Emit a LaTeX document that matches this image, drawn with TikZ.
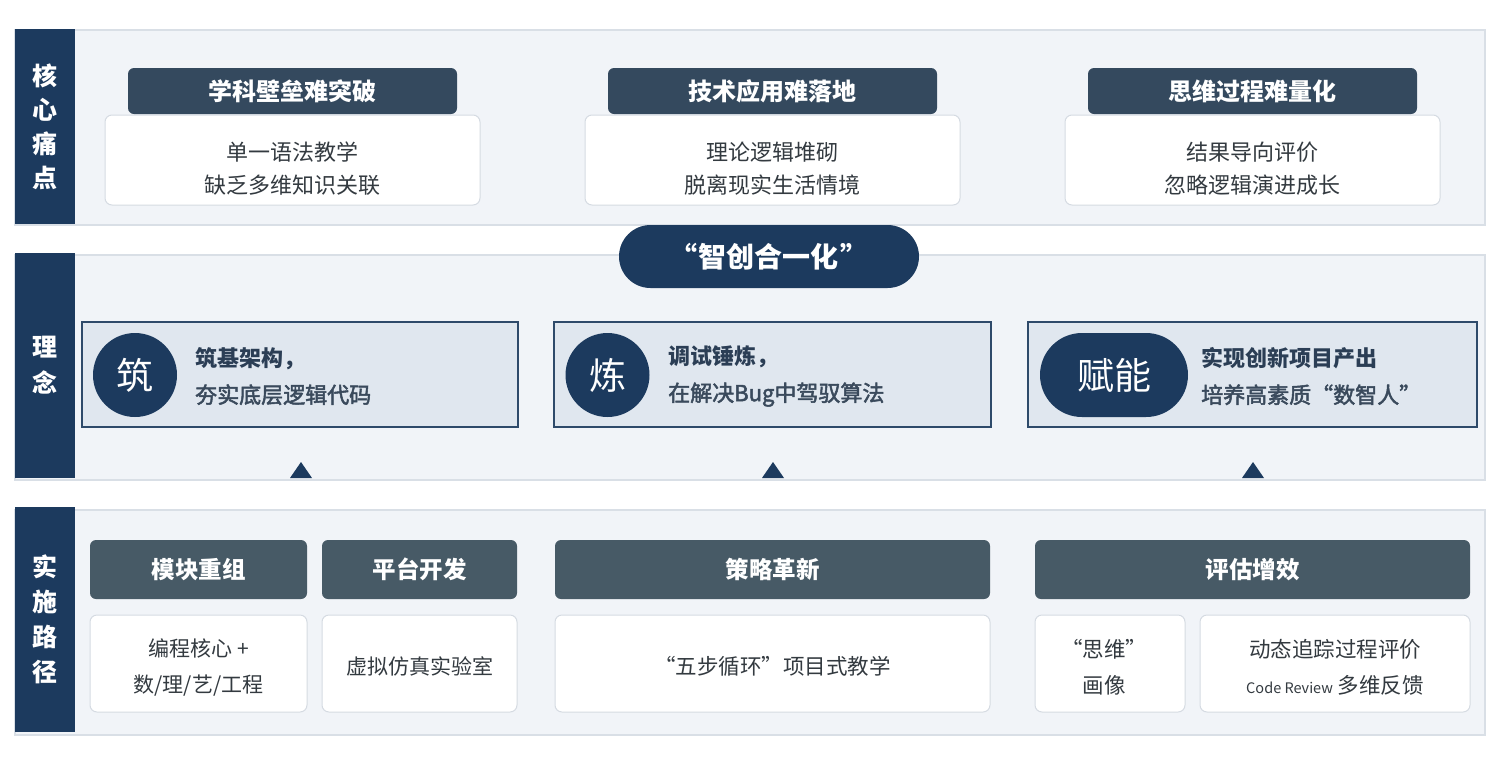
\documentclass[tikz,border=0pt]{standalone}
\usepackage{fontspec}
\setmainfont{Noto Sans CJK SC}
\usetikzlibrary{shapes.misc}
\definecolor{navy}{HTML}{1C3A5E}
\definecolor{slateA}{HTML}{34495E}
\definecolor{slateB}{HTML}{475A66}
\definecolor{panelfill}{HTML}{F1F4F8}
\definecolor{panelline}{HTML}{D9DFE6}
\definecolor{conceptfill}{HTML}{E0E7EF}
\definecolor{conceptline}{HTML}{2E4A6A}
\definecolor{boxline}{HTML}{D5DBE2}
\definecolor{bodytext}{HTML}{333A40}
\definecolor{concepttext}{HTML}{2B3E55}
\definecolor{concepttextB}{HTML}{3A4A5C}
\tikzset{
  panel/.style={draw=panelline, line width=1.2pt, fill=panelfill, rectangle, inner sep=0pt},
  sidebar/.style={fill=navy, rectangle, inner sep=0pt, minimum width=60pt, text=white,
     font=\fontsize{25}{34}\selectfont\bfseries, align=center},
  headA/.style={fill=slateA, rounded corners=6pt, inner sep=0pt, minimum height=46pt, text=white,
     font=\fontsize{24}{26}\selectfont\bfseries},
  headB/.style={fill=slateB, rounded corners=6pt, inner sep=0pt, minimum height=59pt, text=white,
     font=\fontsize{23.5}{26}\selectfont\bfseries},
  whitebox/.style={fill=white, draw=boxline, line width=1pt, rounded corners=7pt, inner sep=0pt},
  btext/.style={text=bodytext, align=center, inner sep=0pt, font=\fontsize{22}{33}\selectfont},
  concept/.style={fill=conceptfill, draw=conceptline, line width=1.2pt, inner sep=0pt, minimum height=105pt},
  badge/.style={fill=navy, circle, inner sep=0pt, minimum size=84pt, text=white, font=\fontsize{37}{40}\selectfont},
  ctext/.style={anchor=west, align=left, text=concepttext, inner sep=0pt, font=\fontsize{22}{37}\selectfont},
  tri/.style={fill=navy}
}
\newcommand{\lineB}[1]{{\color{concepttextB}\special{pdf:literal direct 2 Tr 0.5 w}#1\special{pdf:literal direct 0 Tr}}}
\begin{document}
\begin{tikzpicture}[x=1pt,y=-1pt]
\useasboundingbox[fill=white] (0,0) rectangle (1500,780);
% ---------- Row 1 ----------
\node[panel, minimum width=1470pt, minimum height=195pt] (p1) at (750,127.5) {};
\node[sidebar, minimum height=195pt] (b1) at (45,126.5) {核\\心\\痛\\点};
\node[whitebox, minimum width=375pt, minimum height=90pt] (w11) at (292.5,160) {};
\node[whitebox, minimum width=375pt, minimum height=90pt] (w12) at (772.5,160) {};
\node[whitebox, minimum width=375pt, minimum height=90pt] (w13) at (1252.5,160) {};
\node[btext] (x11) at (292.5,168.5) {单一语法教学\\缺乏多维知识关联};
\node[btext] (x12) at (772.5,168.5) {理论逻辑堆砌\\脱离现实生活情境};
\node[btext] (x13) at (1252.5,168.5) {结果导向评价\\忽略逻辑演进成长};
\node[headA, minimum width=329pt] (h11) at (292.5,91) {学科壁垒难突破};
\node[headA, minimum width=329pt] (h12) at (772.5,91) {技术应用难落地};
\node[headA, minimum width=329pt] (h13) at (1252.5,91) {思维过程难量化};
% ---------- Row 2 ----------
\node[panel, minimum width=1470pt, minimum height=225pt] (p2) at (750,367.5) {};
\node[sidebar, minimum height=225pt, font=\fontsize{25}{36}\selectfont\bfseries] (b2) at (45,365) {理\\念};
\node[fill=navy, rounded rectangle, inner sep=0pt, minimum width=300pt, minimum height=63pt, text=white,
      font=\fontsize{28}{30}\selectfont\bfseries] (pill) at (769,256.5) {“\hspace{2pt}智创合一化\hspace{2pt}”};
\node[concept, minimum width=436pt] (c1) at (300,374.5) {};
\node[concept, minimum width=437pt] (c2) at (772.5,374.5) {};
\node[concept, minimum width=449pt] (c3) at (1252.5,374.5) {};
\node[badge] (k1) at (135,375) {筑};
\node[badge] (k2) at (607.5,375) {炼};
\node[fill=navy, rounded rectangle, inner sep=0pt, minimum width=148pt, minimum height=84pt, text=white,
      font=\fontsize{37}{40}\selectfont] (k3) at (1114,375) {赋能};
\node[ctext] (t1) at (195,376) {\textbf{筑基架构，}\\\lineB{夯实底层逻辑代码}};
\node[ctext] (t2) at (668,376) {\textbf{调试锤炼，}\\\lineB{在解决Bug中驾驭算法}};
\node[ctext] (t3) at (1201,376) {\textbf{实现创新项目产出}\\\lineB{培养高素质“数智人”}};
\fill[tri] (290,478) -- (301,462) -- (312,478) -- cycle;
\fill[tri] (762,478) -- (773,462) -- (784,478) -- cycle;
\fill[tri] (1242,478) -- (1253,462) -- (1264,478) -- cycle;
% ---------- Row 3 ----------
\node[panel, minimum width=1470pt, minimum height=225pt] (p3) at (750,622.5) {};
\node[sidebar, minimum height=225pt, font=\fontsize{25}{35}\selectfont\bfseries] (b3) at (45,619.5) {实\\施\\路\\径};
\node[headB, minimum width=217pt] (h31) at (198.5,569.5) {模块重组};
\node[headB, minimum width=195pt] (h32) at (419.5,569.5) {平台开发};
\node[headB, minimum width=435pt] (h33) at (772.5,569.5) {策略革新};
\node[headB, minimum width=435pt] (h34) at (1252.5,569.5) {评估增效};
\node[whitebox, minimum width=217pt, minimum height=97pt] (w31) at (198.5,663.5) {};
\node[whitebox, minimum width=195pt, minimum height=97pt] (w32) at (419.5,663.5) {};
\node[whitebox, minimum width=435pt, minimum height=97pt] (w33) at (772.5,663.5) {};
\node[whitebox, minimum width=150pt, minimum height=97pt] (w34) at (1110,663.5) {};
\node[whitebox, minimum width=270pt, minimum height=97pt] (w35) at (1335,663.5) {};
\node[btext, font=\fontsize{21}{36}\selectfont] (x31) at (198.5,667) {编程核心 +\\数/理/艺/工程};
\node[btext, font=\fontsize{21}{36}\selectfont] (x32) at (419.5,666) {虚拟仿真实验室};
\node[btext, font=\fontsize{21.5}{36}\selectfont] (x33) at (772.5,666) {“五步循环”项目式教学};
\node[btext, font=\fontsize{21.5}{36}\selectfont] (x34) at (1104,667) {“思维”\\画像};
\node[btext, font=\fontsize{21.5}{36}\selectfont] (x35) at (1335,667) {动态追踪过程评价\\{\fontsize{14.5}{16}\selectfont Code Review} 多维反馈};
\end{tikzpicture}
\end{document}
